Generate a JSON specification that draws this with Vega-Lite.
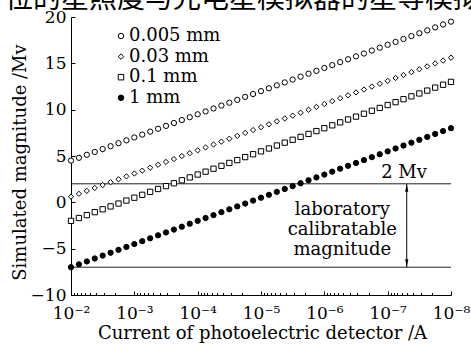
{
"$schema":"https://vega.github.io/schema/vega-lite/v6.json",
"autosize":{"type":"none"},
"padding":{"left":71,"top":17,"right":20,"bottom":49},
"width":380,"height":278,
"background":"white",
"title":{"text":"位的星照度与光电星模拟器的星等模拟","anchor":"start","frame":"group","offset":-28,"dx":-66,"fontSize":28,"font":"Noto Sans CJK SC","fontWeight":"normal","color":"black","baseline":"alphabetic","limit":0},
"config":{"view":{"stroke":null},"font":"DejaVu Serif",
 "axis":{"domainColor":"black","tickColor":"black","labelColor":"black","labelFont":"DejaVu Serif","labelFontSize":17,"titleFont":"DejaVu Serif","titleFontSize":18,"titleFontWeight":"normal","titleColor":"black","grid":false,"labelFlush":false,"labelOverlap":false},
 "legend":{"orient":"none","legendX":41,"legendY":10,"title":null,"labelFont":"DejaVu Serif","labelFontSize":18,"labelColor":"black","rowPadding":2.6,"symbolSize":30,"symbolStrokeColor":"black","symbolStrokeWidth":1,"labelOffset":-1,"padding":0}},
"layer":[
{"data":{"values":[{"m":2},{"m":-7}]},"mark":{"type":"rule","color":"#222","strokeWidth":1},"encoding":{"y":{"field":"m","type":"quantitative","title":"Simulated magnitude /Mv"}}},
{"data":{"values":[
{"s":"0.005 mm","i":1e-2,"m":4.5},{"s":"0.005 mm","i":7.499e-3,"m":4.81},{"s":"0.005 mm","i":5.623e-3,"m":5.13},{"s":"0.005 mm","i":4.217e-3,"m":5.44},{"s":"0.005 mm","i":3.162e-3,"m":5.75},{"s":"0.005 mm","i":2.371e-3,"m":6.06},{"s":"0.005 mm","i":1.778e-3,"m":6.38},{"s":"0.005 mm","i":1.334e-3,"m":6.69},
{"s":"0.005 mm","i":1e-3,"m":7},{"s":"0.005 mm","i":7.499e-4,"m":7.31},{"s":"0.005 mm","i":5.623e-4,"m":7.63},{"s":"0.005 mm","i":4.217e-4,"m":7.94},{"s":"0.005 mm","i":3.162e-4,"m":8.25},{"s":"0.005 mm","i":2.371e-4,"m":8.56},{"s":"0.005 mm","i":1.778e-4,"m":8.88},{"s":"0.005 mm","i":1.334e-4,"m":9.19},
{"s":"0.005 mm","i":1e-4,"m":9.5},{"s":"0.005 mm","i":7.499e-5,"m":9.81},{"s":"0.005 mm","i":5.623e-5,"m":10.13},{"s":"0.005 mm","i":4.217e-5,"m":10.44},{"s":"0.005 mm","i":3.162e-5,"m":10.75},{"s":"0.005 mm","i":2.371e-5,"m":11.06},{"s":"0.005 mm","i":1.778e-5,"m":11.38},{"s":"0.005 mm","i":1.334e-5,"m":11.69},
{"s":"0.005 mm","i":1e-5,"m":12},{"s":"0.005 mm","i":7.499e-6,"m":12.31},{"s":"0.005 mm","i":5.623e-6,"m":12.63},{"s":"0.005 mm","i":4.217e-6,"m":12.94},{"s":"0.005 mm","i":3.162e-6,"m":13.25},{"s":"0.005 mm","i":2.371e-6,"m":13.56},{"s":"0.005 mm","i":1.778e-6,"m":13.88},{"s":"0.005 mm","i":1.334e-6,"m":14.19},
{"s":"0.005 mm","i":1e-6,"m":14.5},{"s":"0.005 mm","i":7.499e-7,"m":14.81},{"s":"0.005 mm","i":5.623e-7,"m":15.13},{"s":"0.005 mm","i":4.217e-7,"m":15.44},{"s":"0.005 mm","i":3.162e-7,"m":15.75},{"s":"0.005 mm","i":2.371e-7,"m":16.06},{"s":"0.005 mm","i":1.778e-7,"m":16.38},{"s":"0.005 mm","i":1.334e-7,"m":16.69},
{"s":"0.005 mm","i":1e-7,"m":17},{"s":"0.005 mm","i":7.499e-8,"m":17.31},{"s":"0.005 mm","i":5.623e-8,"m":17.63},{"s":"0.005 mm","i":4.217e-8,"m":17.94},{"s":"0.005 mm","i":3.162e-8,"m":18.25},{"s":"0.005 mm","i":2.371e-8,"m":18.56},{"s":"0.005 mm","i":1.778e-8,"m":18.88},{"s":"0.005 mm","i":1.334e-8,"m":19.19},
{"s":"0.005 mm","i":1e-8,"m":19.5},
{"s":"0.03 mm","i":1e-2,"m":0.61},{"s":"0.03 mm","i":7.499e-3,"m":0.92},{"s":"0.03 mm","i":5.623e-3,"m":1.24},{"s":"0.03 mm","i":4.217e-3,"m":1.55},{"s":"0.03 mm","i":3.162e-3,"m":1.86},{"s":"0.03 mm","i":2.371e-3,"m":2.17},{"s":"0.03 mm","i":1.778e-3,"m":2.49},{"s":"0.03 mm","i":1.334e-3,"m":2.8},
{"s":"0.03 mm","i":1e-3,"m":3.11},{"s":"0.03 mm","i":7.499e-4,"m":3.42},{"s":"0.03 mm","i":5.623e-4,"m":3.74},{"s":"0.03 mm","i":4.217e-4,"m":4.05},{"s":"0.03 mm","i":3.162e-4,"m":4.36},{"s":"0.03 mm","i":2.371e-4,"m":4.67},{"s":"0.03 mm","i":1.778e-4,"m":4.99},{"s":"0.03 mm","i":1.334e-4,"m":5.3},
{"s":"0.03 mm","i":1e-4,"m":5.61},{"s":"0.03 mm","i":7.499e-5,"m":5.92},{"s":"0.03 mm","i":5.623e-5,"m":6.24},{"s":"0.03 mm","i":4.217e-5,"m":6.55},{"s":"0.03 mm","i":3.162e-5,"m":6.86},{"s":"0.03 mm","i":2.371e-5,"m":7.17},{"s":"0.03 mm","i":1.778e-5,"m":7.49},{"s":"0.03 mm","i":1.334e-5,"m":7.8},
{"s":"0.03 mm","i":1e-5,"m":8.11},{"s":"0.03 mm","i":7.499e-6,"m":8.42},{"s":"0.03 mm","i":5.623e-6,"m":8.74},{"s":"0.03 mm","i":4.217e-6,"m":9.05},{"s":"0.03 mm","i":3.162e-6,"m":9.36},{"s":"0.03 mm","i":2.371e-6,"m":9.67},{"s":"0.03 mm","i":1.778e-6,"m":9.99},{"s":"0.03 mm","i":1.334e-6,"m":10.3},
{"s":"0.03 mm","i":1e-6,"m":10.61},{"s":"0.03 mm","i":7.499e-7,"m":10.92},{"s":"0.03 mm","i":5.623e-7,"m":11.24},{"s":"0.03 mm","i":4.217e-7,"m":11.55},{"s":"0.03 mm","i":3.162e-7,"m":11.86},{"s":"0.03 mm","i":2.371e-7,"m":12.17},{"s":"0.03 mm","i":1.778e-7,"m":12.49},{"s":"0.03 mm","i":1.334e-7,"m":12.8},
{"s":"0.03 mm","i":1e-7,"m":13.11},{"s":"0.03 mm","i":7.499e-8,"m":13.42},{"s":"0.03 mm","i":5.623e-8,"m":13.74},{"s":"0.03 mm","i":4.217e-8,"m":14.05},{"s":"0.03 mm","i":3.162e-8,"m":14.36},{"s":"0.03 mm","i":2.371e-8,"m":14.67},{"s":"0.03 mm","i":1.778e-8,"m":14.99},{"s":"0.03 mm","i":1.334e-8,"m":15.3},
{"s":"0.03 mm","i":1e-8,"m":15.61},
{"s":"0.1 mm","i":1e-2,"m":-2},{"s":"0.1 mm","i":7.499e-3,"m":-1.69},{"s":"0.1 mm","i":5.623e-3,"m":-1.38},{"s":"0.1 mm","i":4.217e-3,"m":-1.06},{"s":"0.1 mm","i":3.162e-3,"m":-0.75},{"s":"0.1 mm","i":2.371e-3,"m":-0.44},{"s":"0.1 mm","i":1.778e-3,"m":-0.13},{"s":"0.1 mm","i":1.334e-3,"m":0.19},
{"s":"0.1 mm","i":1e-3,"m":0.5},{"s":"0.1 mm","i":7.499e-4,"m":0.81},{"s":"0.1 mm","i":5.623e-4,"m":1.13},{"s":"0.1 mm","i":4.217e-4,"m":1.44},{"s":"0.1 mm","i":3.162e-4,"m":1.75},{"s":"0.1 mm","i":2.371e-4,"m":2.06},{"s":"0.1 mm","i":1.778e-4,"m":2.38},{"s":"0.1 mm","i":1.334e-4,"m":2.69},
{"s":"0.1 mm","i":1e-4,"m":3},{"s":"0.1 mm","i":7.499e-5,"m":3.31},{"s":"0.1 mm","i":5.623e-5,"m":3.63},{"s":"0.1 mm","i":4.217e-5,"m":3.94},{"s":"0.1 mm","i":3.162e-5,"m":4.25},{"s":"0.1 mm","i":2.371e-5,"m":4.56},{"s":"0.1 mm","i":1.778e-5,"m":4.88},{"s":"0.1 mm","i":1.334e-5,"m":5.19},
{"s":"0.1 mm","i":1e-5,"m":5.5},{"s":"0.1 mm","i":7.499e-6,"m":5.81},{"s":"0.1 mm","i":5.623e-6,"m":6.13},{"s":"0.1 mm","i":4.217e-6,"m":6.44},{"s":"0.1 mm","i":3.162e-6,"m":6.75},{"s":"0.1 mm","i":2.371e-6,"m":7.06},{"s":"0.1 mm","i":1.778e-6,"m":7.38},{"s":"0.1 mm","i":1.334e-6,"m":7.69},
{"s":"0.1 mm","i":1e-6,"m":8},{"s":"0.1 mm","i":7.499e-7,"m":8.31},{"s":"0.1 mm","i":5.623e-7,"m":8.63},{"s":"0.1 mm","i":4.217e-7,"m":8.94},{"s":"0.1 mm","i":3.162e-7,"m":9.25},{"s":"0.1 mm","i":2.371e-7,"m":9.56},{"s":"0.1 mm","i":1.778e-7,"m":9.88},{"s":"0.1 mm","i":1.334e-7,"m":10.19},
{"s":"0.1 mm","i":1e-7,"m":10.5},{"s":"0.1 mm","i":7.499e-8,"m":10.81},{"s":"0.1 mm","i":5.623e-8,"m":11.13},{"s":"0.1 mm","i":4.217e-8,"m":11.44},{"s":"0.1 mm","i":3.162e-8,"m":11.75},{"s":"0.1 mm","i":2.371e-8,"m":12.06},{"s":"0.1 mm","i":1.778e-8,"m":12.38},{"s":"0.1 mm","i":1.334e-8,"m":12.69},
{"s":"0.1 mm","i":1e-8,"m":13},
{"s":"1 mm","i":1e-2,"m":-7},{"s":"1 mm","i":7.499e-3,"m":-6.69},{"s":"1 mm","i":5.623e-3,"m":-6.38},{"s":"1 mm","i":4.217e-3,"m":-6.06},{"s":"1 mm","i":3.162e-3,"m":-5.75},{"s":"1 mm","i":2.371e-3,"m":-5.44},{"s":"1 mm","i":1.778e-3,"m":-5.13},{"s":"1 mm","i":1.334e-3,"m":-4.81},
{"s":"1 mm","i":1e-3,"m":-4.5},{"s":"1 mm","i":7.499e-4,"m":-4.19},{"s":"1 mm","i":5.623e-4,"m":-3.88},{"s":"1 mm","i":4.217e-4,"m":-3.56},{"s":"1 mm","i":3.162e-4,"m":-3.25},{"s":"1 mm","i":2.371e-4,"m":-2.94},{"s":"1 mm","i":1.778e-4,"m":-2.63},{"s":"1 mm","i":1.334e-4,"m":-2.31},
{"s":"1 mm","i":1e-4,"m":-2},{"s":"1 mm","i":7.499e-5,"m":-1.69},{"s":"1 mm","i":5.623e-5,"m":-1.38},{"s":"1 mm","i":4.217e-5,"m":-1.06},{"s":"1 mm","i":3.162e-5,"m":-0.75},{"s":"1 mm","i":2.371e-5,"m":-0.44},{"s":"1 mm","i":1.778e-5,"m":-0.13},{"s":"1 mm","i":1.334e-5,"m":0.19},
{"s":"1 mm","i":1e-5,"m":0.5},{"s":"1 mm","i":7.499e-6,"m":0.81},{"s":"1 mm","i":5.623e-6,"m":1.13},{"s":"1 mm","i":4.217e-6,"m":1.44},{"s":"1 mm","i":3.162e-6,"m":1.75},{"s":"1 mm","i":2.371e-6,"m":2.06},{"s":"1 mm","i":1.778e-6,"m":2.38},{"s":"1 mm","i":1.334e-6,"m":2.69},
{"s":"1 mm","i":1e-6,"m":3},{"s":"1 mm","i":7.499e-7,"m":3.31},{"s":"1 mm","i":5.623e-7,"m":3.63},{"s":"1 mm","i":4.217e-7,"m":3.94},{"s":"1 mm","i":3.162e-7,"m":4.25},{"s":"1 mm","i":2.371e-7,"m":4.56},{"s":"1 mm","i":1.778e-7,"m":4.88},{"s":"1 mm","i":1.334e-7,"m":5.19},
{"s":"1 mm","i":1e-7,"m":5.5},{"s":"1 mm","i":7.499e-8,"m":5.81},{"s":"1 mm","i":5.623e-8,"m":6.13},{"s":"1 mm","i":4.217e-8,"m":6.44},{"s":"1 mm","i":3.162e-8,"m":6.75},{"s":"1 mm","i":2.371e-8,"m":7.06},{"s":"1 mm","i":1.778e-8,"m":7.38},{"s":"1 mm","i":1.334e-8,"m":7.69},
{"s":"1 mm","i":1e-8,"m":8}
]},
"mark":{"type":"point","filled":true,"strokeWidth":1,"size":28,"opacity":1},
"encoding":{
"x":{"field":"i","type":"quantitative","title":"Current of photoelectric detector /A","scale":{"type":"log","domain":[1e-8,1e-2],"reverse":true,"nice":false},
 "axis":{"values":[1e-2,9e-3,8e-3,7e-3,6e-3,5e-3,4e-3,3e-3,2e-3,1e-3,9e-4,8e-4,7e-4,6e-4,5e-4,4e-4,3e-4,2e-4,1e-4,9e-5,8e-5,7e-5,6e-5,5e-5,4e-5,3e-5,2e-5,1e-5,9e-6,8e-6,7e-6,6e-6,5e-6,4e-6,3e-6,2e-6,1e-6,9e-7,8e-7,7e-7,6e-7,5e-7,4e-7,3e-7,2e-7,1e-7,9e-8,8e-8,7e-8,6e-8,5e-8,4e-8,3e-8,2e-8,1e-8],
  "labelExpr":"abs(log(datum.value)/LN10 - round(log(datum.value)/LN10)) < 0.001 ? '10⁻' + ['⁰','¹','²','³','⁴','⁵','⁶','⁷','⁸','⁹'][-round(log(datum.value)/LN10)] : ''",
  "tickSize":{"condition":{"test":"abs(log(datum.value)/LN10 - round(log(datum.value)/LN10)) < 0.001","value":-4},"value":-2.5},
  "labelBaseline":"alphabetic","labelPadding":27,"titleX":191,"titleY":43,"titleBaseline":"alphabetic","titleAnchor":"middle"}},
"y":{"field":"m","type":"quantitative","title":"Simulated magnitude /Mv","scale":{"domain":[-10,20],"nice":false},
 "axis":{"values":[-10,-5,0,5,10,15,20],"tickSize":-4,"labelPadding":9,"labelBaseline":"middle","titleAngle":-90,"titleX":-46,"titleY":145,"titleBaseline":"alphabetic","titleAlign":"center"}},
"shape":{"field":"s","type":"nominal","scale":{"domain":["0.005 mm","0.03 mm","0.1 mm","1 mm"],"range":["circle","diamond","square","circle"]}},
"fill":{"field":"s","type":"nominal","scale":{"domain":["0.005 mm","0.03 mm","0.1 mm","1 mm"],"range":["white","white","white","black"]}},
"stroke":{"field":"s","type":"nominal","scale":{"domain":["0.005 mm","0.03 mm","0.1 mm","1 mm"],"range":["black","black","black","black"]}}
}},
{"data":{"values":[{"i":5e-8,"m":2,"m2":-7}]},"mark":{"type":"rule","color":"black","strokeWidth":1},"encoding":{"x":{"field":"i","type":"quantitative","title":"Current of photoelectric detector /A"},"y":{"field":"m","type":"quantitative","title":"Simulated magnitude /Mv"},"y2":{"field":"m2"}}},
{"data":{"values":[{"i":5e-8,"m":2}]},"mark":{"type":"point","shape":"M0,0L-0.4,2L0.4,2Z","size":64,"filled":true,"color":"black","opacity":1},"encoding":{"x":{"field":"i","type":"quantitative","title":"Current of photoelectric detector /A"},"y":{"field":"m","type":"quantitative","title":"Simulated magnitude /Mv"}}},
{"data":{"values":[{"i":5e-8,"m":-7}]},"mark":{"type":"point","shape":"M0,0L-0.4,-2L0.4,-2Z","size":64,"filled":true,"color":"black","opacity":1},"encoding":{"x":{"field":"i","type":"quantitative","title":"Current of photoelectric detector /A"},"y":{"field":"m","type":"quantitative","title":"Simulated magnitude /Mv"}}},
{"data":{"values":[{"i":2.4e-8,"m":2,"t":"2 Mv"}]},"mark":{"type":"text","align":"right","baseline":"alphabetic","dy":-6,"fontSize":18,"font":"DejaVu Serif","color":"black"},"encoding":{"x":{"field":"i","type":"quantitative","title":"Current of photoelectric detector /A"},"y":{"field":"m","type":"quantitative","title":"Simulated magnitude /Mv"},"text":{"field":"t","type":"nominal"}}},
{"data":{"values":[{"i":5.2e-7,"m":-0.8,"t":["laboratory","calibratable","magnitude"]}]},"mark":{"type":"text","align":"center","baseline":"middle","lineHeight":20,"fontSize":18,"font":"DejaVu Serif","color":"black"},"encoding":{"x":{"field":"i","type":"quantitative","title":"Current of photoelectric detector /A"},"y":{"field":"m","type":"quantitative","title":"Simulated magnitude /Mv"},"text":{"field":"t","type":"nominal"}}}
]
}
